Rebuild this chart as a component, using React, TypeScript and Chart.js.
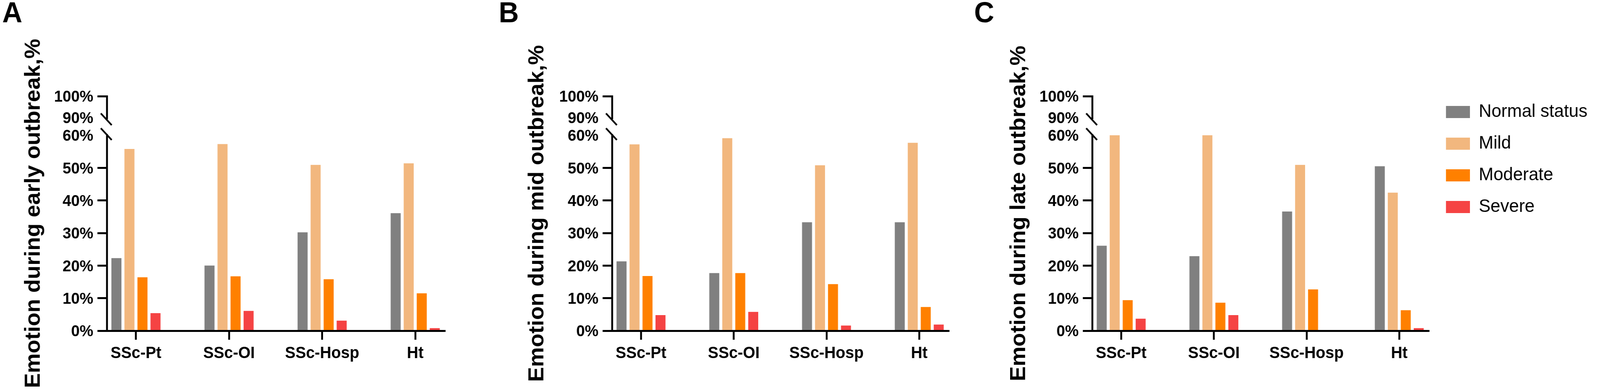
import { Chart, registerables } from 'chart.js'
import { useEffect, useRef } from 'react'

Chart.register(...registerables)

const FONT = "'Liberation Sans', Arial, sans-serif"
Chart.defaults.font.family = FONT
Chart.defaults.color = '#000'

const CATEGORIES = ['SSc-Pt', 'SSc-OI', 'SSc-Hosp', 'Ht']
const SERIES = ['Normal status', 'Mild', 'Moderate', 'Severe']
const COLORS = ['#808080', '#F2B77E', '#FF8000', '#F54343']

// early outbreak (A)
const EARLY_NORMAL = [22.3, 20.0, 30.2, 36.1]
const EARLY_MILD = [55.8, 57.3, 50.9, 51.4]
const EARLY_MODERATE = [16.4, 16.7, 15.8, 11.5]
const EARLY_SEVERE = [5.4, 6.1, 3.1, 0.8]

// mid outbreak (B)
const MID_NORMAL = [21.3, 17.7, 33.3, 33.3]
const MID_MILD = [57.2, 59.1, 50.8, 57.7]
const MID_MODERATE = [16.8, 17.7, 14.3, 7.3]
const MID_SEVERE = [4.8, 5.8, 1.6, 1.9]

// late outbreak (C) - the first two mild bars run past 60% and are cut at the break
const LATE_NORMAL = [26.1, 22.9, 36.6, 50.5]
const LATE_MILD = [60.8, 63.7, 50.9, 42.4]
const LATE_MODERATE = [9.4, 8.6, 12.7, 6.3]
const LATE_SEVERE = [3.7, 4.8, 0, 0.8]

const Y_TICKS = [0, 10, 20, 30, 40, 50, 60, 90, 100]

// broken y axis: 0-60 at full scale, a gap, then 90-100 squeezed
const BREAK_LOW = 60
const BREAK_HIGH = 90
const GAP = 5.4
const TOP_SCALE = 0.66
const toAxis = (v: number) =>
  v <= BREAK_LOW ? v : v < BREAK_HIGH ? BREAK_LOW : BREAK_LOW + GAP + (v - BREAK_HIGH) * TOP_SCALE

const FIG_W = 4269
const FIG_H = 995

interface Panel {
  letter: string
  title: string
  values: number[][]
  left: number
  width: number
  yWidth: number
  titlePad: number
  padRight: number
  legend: boolean
}

const PANELS: Panel[] = [
  {
    letter: 'A', title: 'Emotion during early outbreak,%',
    values: [EARLY_NORMAL, EARLY_MILD, EARLY_MODERATE, EARLY_SEVERE],
    left: 0, width: 1230, yWidth: 279, titlePad: 56, padRight: 42, legend: false,
  },
  {
    letter: 'B', title: 'Emotion during mid outbreak,%',
    values: [MID_NORMAL, MID_MILD, MID_MODERATE, MID_SEVERE],
    left: 1325, width: 1250, yWidth: 302, titlePad: 75, padRight: 43, legend: false,
  },
  {
    letter: 'C', title: 'Emotion during late outbreak,%',
    values: [LATE_NORMAL, LATE_MILD, LATE_MODERATE, LATE_SEVERE],
    left: 2593, width: 1676, yWidth: 315, titlePad: 92, padRight: 456, legend: true,
  },
]

// hides the axis line between 60% and 90% and draws the two slashes
const axisBreak = {
  id: 'axisBreak',
  afterDraw(chart: Chart) {
    const { ctx, chartArea } = chart
    const y = chart.scales.y
    const x0 = chartArea.left
    const yTop = y.getPixelForValue(toAxis(BREAK_HIGH)) + 4
    const yBot = y.getPixelForValue(toAxis(BREAK_LOW)) - 3
    ctx.save()
    ctx.fillStyle = '#fff'
    ctx.fillRect(x0 - 4, yTop, 8, yBot - yTop)
    ctx.strokeStyle = '#000'
    ctx.lineWidth = 4.5
    for (const cy of [yTop, yBot]) {
      ctx.beginPath()
      ctx.moveTo(x0 - 16, cy - 15)
      ctx.lineTo(x0 + 13, cy + 15)
      ctx.stroke()
    }
    ctx.restore()
  },
}

// the legend lives in the right margin of panel C; put its box there after layout
const legendPlacer = {
  id: 'legendPlacer',
  afterLayout(chart: any, _args: any, opts: any) {
    const lg = chart.legend
    if (!lg || opts.x == null) return
    lg.left = opts.x
    lg.right = opts.x + opts.w
    lg.top = opts.y
    lg.bottom = opts.y + opts.h
    lg.width = opts.w
    lg.height = opts.h
  },
}

function buildConfig(p: Panel): any {
  return {
    type: 'bar',
    data: {
      datasets: SERIES.map((name, i) => ({
        label: name,
        data: p.values[i].map((v, k) => ({ x: k, y: toAxis(v) })),
        backgroundColor: COLORS[i],
        borderWidth: 0,
        categoryPercentage: 0.56,
        barPercentage: 0.77,
      })),
    },
    options: {
      responsive: false,
      animation: false,
      layout: { padding: { left: 6, right: p.padRight, top: 0, bottom: 0 } },
      plugins: {
        title: {
          display: true, text: p.letter, align: 'start', color: '#000',
          font: { size: 74, weight: 'bold', lineHeight: 1 },
          padding: { top: 0, bottom: 172 },
        },
        legend: p.legend
          ? {
              display: true, position: 'chartArea', align: 'start',
              labels: {
                boxWidth: 64, boxHeight: 31, padding: 34, color: '#000',
                font: { size: 47, weight: 'normal', lineHeight: 1 },
              },
            }
          : { display: false },
        tooltip: { enabled: false },
        legendPlacer: p.legend ? { x: 3858 - p.left - 34, y: 229, w: 420, h: 400 } : {},
      },
      scales: {
        x: {
          type: 'linear', min: -0.313, max: 3.322, offset: false, bounds: 'data',
          afterBuildTicks: (s: any) => { s.ticks = CATEGORIES.map((_, i) => ({ value: i })) },
          afterFit: (s: any) => { s.height = 149 },
          ticks: {
            callback: (v: number) => CATEGORIES[v],
            font: { size: 42, weight: 'bold', lineHeight: 1 }, color: '#000',
            padding: 14, maxRotation: 0, autoSkip: false,
          },
          grid: { display: true, offset: false, drawOnChartArea: false, drawTicks: true, tickLength: 23, tickWidth: 5, tickColor: '#000' },
          border: { display: true, width: 5, color: '#000', z: 1 },
        },
        y: {
          type: 'linear', min: 0, max: toAxis(100), bounds: 'data',
          afterBuildTicks: (s: any) => { s.ticks = Y_TICKS.map(v => ({ value: toAxis(v) })) },
          afterFit: (s: any) => { s.width = p.yWidth },
          ticks: {
            callback: (_v: number, i: number) => Y_TICKS[i] + '%',
            font: { size: 41, weight: 'bold', lineHeight: 1 }, color: '#000',
            padding: 11, autoSkip: false, labelOffset: 3,
          },
          grid: {
            display: true, drawOnChartArea: false, drawTicks: true, tickLength: 25, tickWidth: 5,
            tickColor: (c: any) => (Y_TICKS[c.index] === BREAK_LOW || Y_TICKS[c.index] === BREAK_HIGH ? 'rgba(0,0,0,0)' : '#000'),
          },
          border: { display: true, width: 5, color: '#000', z: 1 },
          title: {
            display: true, text: p.title, color: '#000',
            font: { size: 57, weight: 'bold', lineHeight: 1 },
            padding: { top: p.titlePad, bottom: 0 },
          },
        },
      },
    },
    plugins: [axisBreak, legendPlacer],
  }
}

export default function App() {
  const refs = useRef<(HTMLCanvasElement | null)[]>([])
  // the figure is laid out at 4269x995; fit it into the viewport we actually get
  const sx = Math.min(1, window.innerWidth / FIG_W)
  const sy = Math.min(1, window.innerHeight / FIG_H)

  useEffect(() => {
    const charts = PANELS.map((p, i) => new Chart(refs.current[i]!, buildConfig(p)))
    return () => charts.forEach(c => c.destroy())
  }, [])

  return (
    <div style={{ position: 'absolute', left: 0, top: 0, width: FIG_W * sx, height: FIG_H * sy, background: '#fff', overflow: 'hidden' }}>
      {PANELS.map((p, i) => (
        <canvas
          key={p.letter}
          ref={el => { refs.current[i] = el }}
          width={p.width}
          height={FIG_H}
          style={{ position: 'absolute', left: p.left * sx, top: 0, width: p.width * sx, height: FIG_H * sy }}
        />
      ))}
    </div>
  )
}
